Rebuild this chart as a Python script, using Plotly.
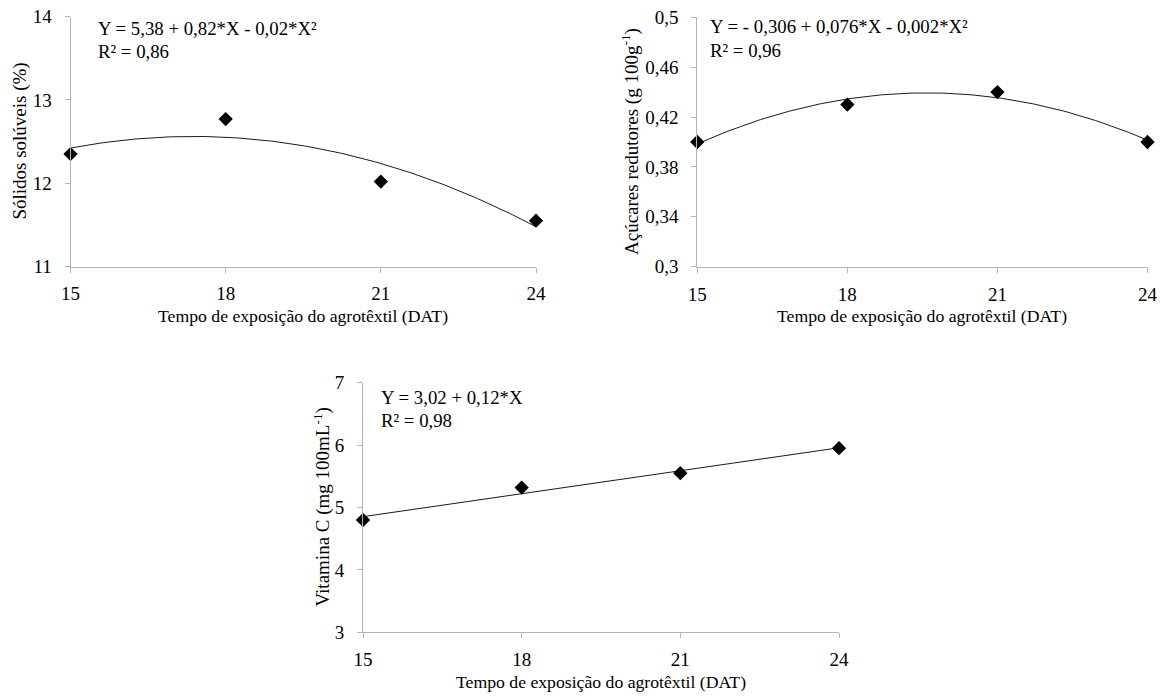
import numpy as np
import plotly.graph_objects as go

# ---- data ----
dat = [15, 18, 21, 24]
solidos = [12.35, 12.77, 12.02, 11.55]
acucares = [0.40, 0.43, 0.44, 0.40]
vitamina = [4.80, 5.32, 5.55, 5.95]

x_ticks = [15, 18, 21, 24]
y1_ticks = [11, 12, 13, 14]
y1_text = ["11", "12", "13", "14"]
y2_ticks = [0.30, 0.34, 0.38, 0.42, 0.46, 0.50]
y2_text = ["0,3", "0,34", "0,38", "0,42", "0,46", "0,5"]
y3_ticks = [3, 4, 5, 6, 7]
y3_text = ["3", "4", "5", "6", "7"]

x_title = "Tempo de exposição do agrotêxtil (DAT)"
y1_title = "Sólidos solúveis (%)"
y2_title = "Açúcares redutores (g 100g<sup>-1</sup>)"
y3_title = "Vitamina C (mg 100mL<sup>-1</sup>)"
eq1 = ["Y = 5,38 + 0,82*X - 0,02*X²", "R² = 0,86"]
eq2 = ["Y = - 0,306 + 0,076*X - 0,002*X²", "R² = 0,96"]
eq3 = ["Y = 3,02 + 0,12*X", "R² = 0,98"]

W, H = 1162, 697
FONT = "Liberation Serif, Times New Roman, serif"
AX = "#b5b5b5"

def px(x):
    return x / W

def py(y):
    return 1 - y / H

# panel pixel boxes: (left, right, top, bottom)
boxes = [(70.5, 536, 16.7, 266.5), (697.3, 1147.5, 17.3, 266.7), (363, 839, 382.7, 632.3)]

fig = go.Figure()

series = [(solidos, 2), (acucares, 2), (vitamina, 1)]
for i, (ys, deg) in enumerate(series):
    xn = "x" if i == 0 else f"x{i+1}"
    yn = "y" if i == 0 else f"y{i+1}"
    coef = np.polyfit(dat, ys, deg)
    xf = np.linspace(dat[0], dat[-1], 200)
    fig.add_trace(go.Scatter(x=xf, y=np.polyval(coef, xf), mode="lines",
                             line=dict(color="#1a1a1a", width=1), xaxis=xn, yaxis=yn,
                             showlegend=False, hoverinfo="skip", cliponaxis=False))
    fig.add_trace(go.Scatter(x=dat, y=ys, mode="markers",
                             marker=dict(symbol="diamond", color="black", size=11),
                             xaxis=xn, yaxis=yn, showlegend=False, cliponaxis=False))

yspecs = [([11, 14], y1_ticks, y1_text), ([0.3, 0.5], y2_ticks, y2_text), ([3, 7], y3_ticks, y3_text)]
layout = dict(width=W, height=H, margin=dict(l=0, r=0, t=0, b=0, autoexpand=False),
              template="none",
              paper_bgcolor="white", plot_bgcolor="white",
              font=dict(family=FONT, size=15, color="black"))
TICKF = dict(family=FONT, size=19, color="black")
for i, (l, r, t, b) in enumerate(boxes):
    xk = "xaxis" if i == 0 else f"xaxis{i+1}"
    yk = "yaxis" if i == 0 else f"yaxis{i+1}"
    xa = "x" if i == 0 else f"x{i+1}"
    ya = "y" if i == 0 else f"y{i+1}"
    rng, tv, tt = yspecs[i]
    layout[xk] = dict(domain=[px(l), px(r)], range=[15, 24], anchor=ya, automargin=False,
                      tickvals=x_ticks, ticktext=[str(v) for v in x_ticks],
                      showline=True, linecolor=AX, linewidth=1, ticks="outside",
                      ticklen=5, tickcolor=AX, showgrid=False, zeroline=False,
                      ticklabelstandoff=5, tickfont=TICKF)
    layout[yk] = dict(domain=[py(b), py(t)], range=rng, anchor=xa, automargin=False,
                      tickvals=tv, ticktext=tt,
                      showline=True, linecolor=AX, linewidth=1, ticks="outside",
                      ticklen=5, tickcolor=AX, showgrid=False, zeroline=False,
                      ticklabelstandoff=9, tickfont=TICKF)
fig.update_layout(**layout)

ann = []
xt_y = [316, 316, 681.7]
yt_x = [20, 630, 322]
ytitles = [y1_title, y2_title, y3_title]
eqs = [eq1, eq2, eq3]
eq_pos = [(96, 28.3, 51.7), (708, 27, 50), (379, 397, 420)]
for i, (l, r, t, b) in enumerate(boxes):
    ann.append(dict(text=x_title, x=px((l + r) / 2), y=py(xt_y[i]), xref="paper", yref="paper",
                    showarrow=False, xanchor="center", yanchor="middle",
                    font=dict(family=FONT, size=17.7, color="black")))
    ann.append(dict(text=ytitles[i], x=px(yt_x[i]), y=py((t + b) / 2), xref="paper", yref="paper",
                    showarrow=False, xanchor="center", yanchor="middle", textangle=-90,
                    font=dict(family=FONT, size=19, color="black")))
    ex, ey1, ey2 = eq_pos[i]
    for txt, yy in zip(eqs[i], (ey1, ey2)):
        ann.append(dict(text=txt, x=px(ex), y=py(yy), xref="paper", yref="paper",
                        showarrow=False, xanchor="left", yanchor="middle",
                        font=dict(family=FONT, size=18.8, color="black")))
fig.update_layout(annotations=ann)

fig.write_html("out.html")
